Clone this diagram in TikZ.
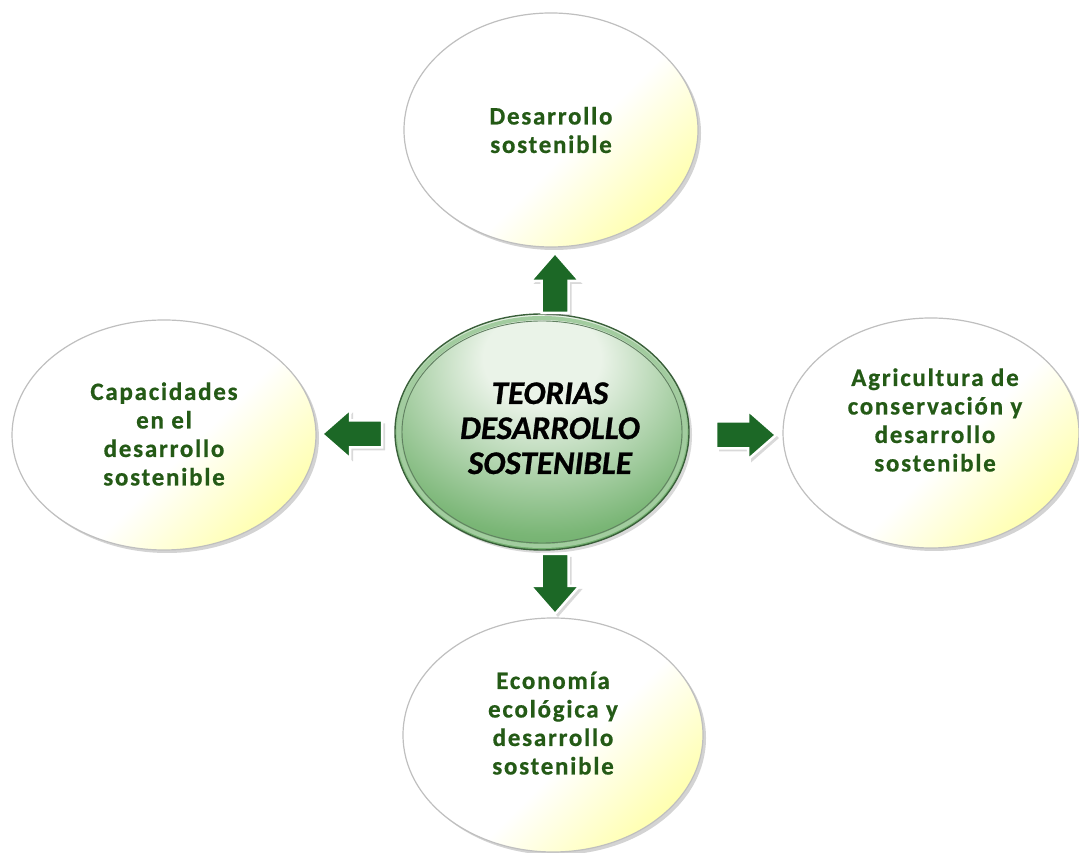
\documentclass[tikz,border=0pt]{standalone}
\usepackage{fontspec}
\setmainfont{Carlito}
\newfontfamily\labfont[LetterSpace=7,FakeBold=0.6]{Carlito Bold}
\newfontfamily\ctrfont[FakeBold=0.8]{Carlito Bold Italic}
\usetikzlibrary{shapes.geometric,shadows,calc}
\definecolor{txtgreen}{RGB}{36,90,22}
\definecolor{arrgreen}{RGB}{28,104,38}
\definecolor{cA}{RGB}{234,243,232}
\definecolor{cB}{RGB}{122,182,118}
\definecolor{cC}{RGB}{74,144,72}
\definecolor{ringcol}{RGB}{58,96,58}
\definecolor{paleY}{RGB}{255,255,165}
\newcommand\txtlines[3]{\hspace*{#1}\raisebox{#2}[\height][\depth]{\begin{tabular}{@{}c@{}}#3\end{tabular}}}
\pgfdeclareradialshading{ctrshade}{\pgfpoint{0bp}{18bp}}{color(0bp)=(cA); color(10bp)=(cA); color(32bp)=(cB); color(50bp)=(cC); color(75bp)=(cC)}
\pgfdeclareverticalshading{outshade}{100bp}{color(0bp)=(paleY); color(22bp)=(paleY); color(45bp)=(white); color(100bp)=(white)}
\tikzset{
  outer/.style={ellipse, inner sep=0pt, shade, shading=outshade, shading angle=45,
    draw=gray!50, line width=1.2pt,
    drop shadow={opacity=0.35, shadow xshift=3pt, shadow yshift=-3pt},
    font=\labfont\fontsize{25}{28.5}\selectfont, text=txtgreen},
  centre/.style={ellipse, inner sep=0pt, shade, shading=ctrshade,
    draw=ringcol, line width=1.4pt,
    drop shadow={opacity=0.3, shadow xshift=3pt, shadow yshift=-3pt},
    font=\ctrfont\fontsize{33}{35}\selectfont, text=black},
  ringline/.style={draw=ringcol!80, line width=0.9pt},
  ringband/.style={draw=cB!70!white, line width=4pt},
  arrowshape/.style={fill=arrgreen, draw=white, line width=2.5pt, line join=miter,
    drop shadow={opacity=0.3, shadow xshift=3pt, shadow yshift=-3pt}},
  blockarrow/.pic={\path[arrowshape] (-30,-13.5) -- (2,-13.5) -- (2,-24.5) -- (30,0) -- (2,24.5) -- (2,13.5) -- (-30,13.5) -- cycle;}
}
\begin{document}
\begin{tikzpicture}[x=1pt,y=1pt]
\useasboundingbox (0,0) rectangle (1079,853);
% centre
\node[centre, minimum width=294pt, minimum height=236pt] (C) at (542,421)
  {\txtlines{16pt}{0pt}{TEORIAS\\DESARROLLO\\SOSTENIBLE}};
\draw[ringband] (C.center) ellipse [x radius=143, y radius=114];
\draw[ringline] (C.center) ellipse [x radius=140, y radius=111];
% outer
\node[outer, minimum width=294pt, minimum height=234pt] (T) at (551,723)
  {\txtlines{0pt}{-3pt}{Desarrollo\\sostenible}};
\node[outer, minimum width=304pt, minimum height=230pt] (L) at (164,418)
  {\txtlines{0pt}{-2pt}{Capacidades\\en el\\desarrollo\\sostenible}};
\node[outer, minimum width=296pt, minimum height=230pt] (R) at (931,420)
  {\txtlines{8pt}{10pt}{Agricultura de\\conservación y\\desarrollo\\sostenible}};
\node[outer, minimum width=300pt, minimum height=234pt] (B) at (553,118)
  {\txtlines{0pt}{9pt}{Economía\\ecológica y\\desarrollo\\sostenible}};
% arrows
\coordinate (aU) at (555,570);
\coordinate (aD) at (555,269);
\coordinate (aL) at (352,419);
\coordinate (aR) at (746,418);
\pic[rotate=90] at (aU) {blockarrow};
\pic[rotate=-90] at (aD) {blockarrow};
\pic[rotate=180] at (aL) {blockarrow};
\pic at (aR) {blockarrow};
\end{tikzpicture}
\end{document}
